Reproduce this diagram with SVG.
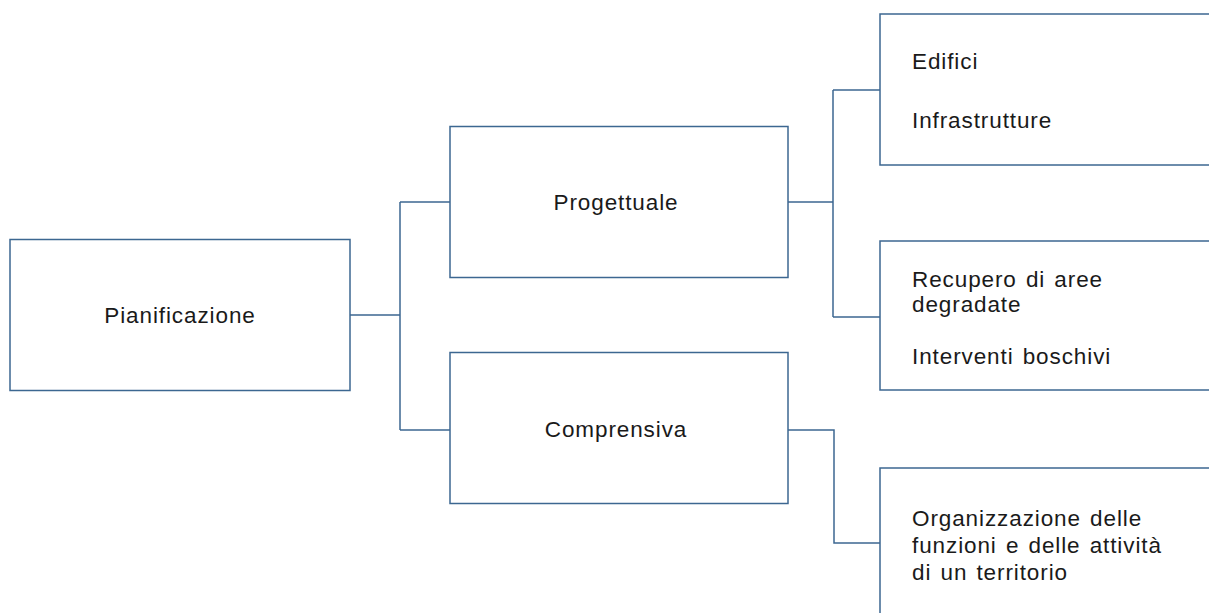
<svg xmlns="http://www.w3.org/2000/svg" width="1209" height="613" viewBox="0 0 1209 613">
<style>
.box{fill:#fff;stroke:#3c6791;stroke-width:1.5}
.con{fill:none;stroke:#3c6791;stroke-width:1.5}
text{font-family:"Liberation Sans",Arial,sans-serif;font-size:22.5px;fill:#1a1a1a;letter-spacing:0.9px;word-spacing:2px}
.c{text-anchor:middle}
</style>
<rect width="1209" height="613" fill="#fff"/>
<g id="connectors">
<path class="con" d="M350,315 H400 M400,202 V430 M400,202 H450 M400,430 H450"/>
<path class="con" d="M788,202 H833 M833,90 V317 M833,90 H880 M833,317 H880"/>
<path class="con" d="M788,430 H834 V543 H880"/>
</g>
<g id="pianificazione">
<rect class="box" x="10" y="239.5" width="340" height="151"/>
<text class="c" x="180" y="323">Pianificazione</text>
</g>
<g id="progettuale">
<rect class="box" x="450" y="126.5" width="338" height="151"/>
<text class="c" x="616" y="210">Progettuale</text>
</g>
<g id="comprensiva">
<rect class="box" x="450" y="352.5" width="338" height="151"/>
<text class="c" x="616" y="437">Comprensiva</text>
</g>
<g id="edifici">
<rect class="box" x="880" y="14" width="340" height="151"/>
<text x="912" y="69">Edifici</text>
<text x="912" y="128">Infrastrutture</text>
</g>
<g id="recupero">
<rect class="box" x="880" y="241" width="340" height="149"/>
<text x="912" y="287">Recupero di aree</text>
<text x="912" y="312">degradate</text>
<text x="912" y="364">Interventi boschivi</text>
</g>
<g id="organizzazione">
<rect class="box" x="880" y="468" width="340" height="160"/>
<text x="912" y="526">Organizzazione delle</text>
<text x="912" y="553">funzioni e delle attività</text>
<text x="912" y="580">di un territorio</text>
</g>
</svg>
